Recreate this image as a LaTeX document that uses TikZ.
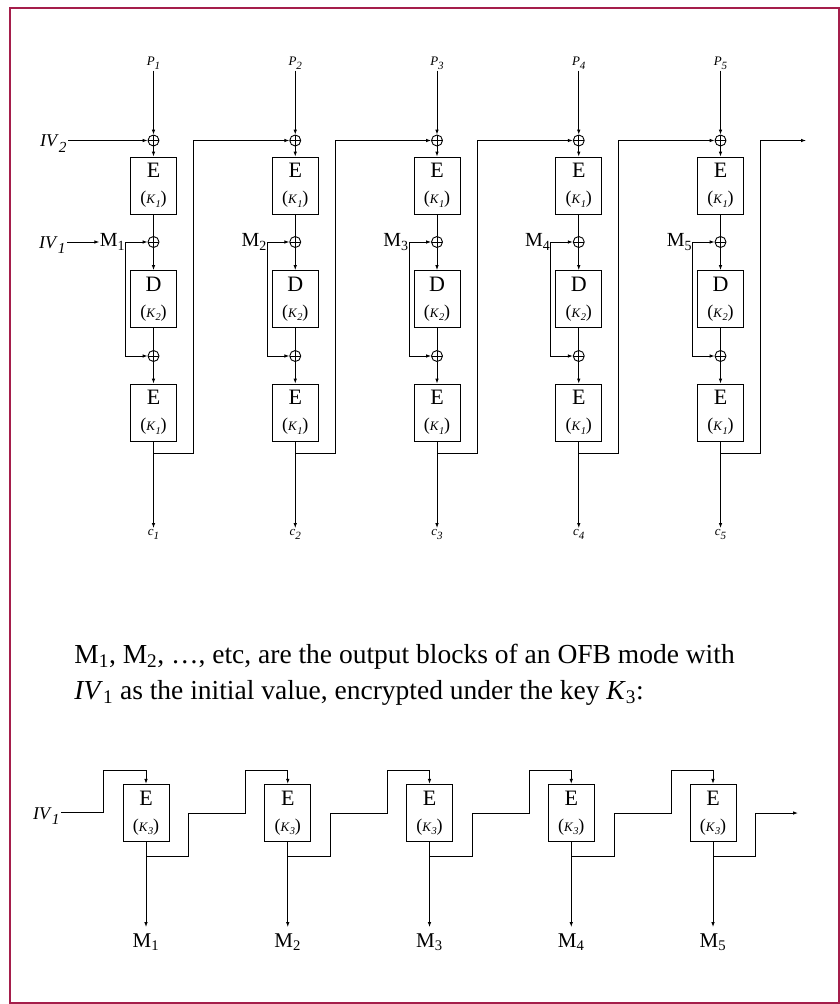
\documentclass[tikz,border=0pt]{standalone}
\usepackage{fontspec}
\usepackage{graphicx}
\setmainfont{Liberation Serif}
\usetikzlibrary{arrows.meta}
\definecolor{framered}{RGB}{165,30,75}
\newcommand{\kk}[1]{{\fontsize{13}{13}\selectfont\textit{K}\raisebox{-0.25em}{\scalebox{0.8}{\textit{#1}}}}}
\newcommand{\lab}[2]{\textit{#1}\raisebox{-0.3em}{\scalebox{0.85}{\textit{#2}}}}
\newcommand{\bx}[2]{#1\\{\fontsize{18}{26}\selectfont(\kk{#2})}}
\begin{document}
\begin{tikzpicture}[x=1pt,y=-1pt,line width=0.9pt,>={Latex[length=5pt,width=3.6pt]},
  blk/.style={draw,minimum width=46pt,minimum height=57pt,inner sep=0pt,align=center,font=\fontsize{22}{26}\selectfont},
  xor/.style={draw,circle,minimum size=11pt,inner sep=0pt,
    path picture={\draw[line width=0.8pt] (path picture bounding box.north) -- (path picture bounding box.south)
      (path picture bounding box.west) -- (path picture bounding box.east);}},
  lbl/.style={font=\fontsize{13}{13}\selectfont,inner sep=1pt},
  ivl/.style={font=\fontsize{18}{18}\selectfont,inner sep=1pt}]
\useasboundingbox (0,0) rectangle (840,1004);
\draw[framered,line width=2pt] (9.5,7.5) rectangle (839,1002.5);

% triple encryption chain
\foreach \i in {1,...,5}{
  \pgfmathsetmacro\x{153.5+141.75*(\i-1)}
  \node[lbl] (p\i) at (\x,63) {\lab{P}{\i}};
  \node[xor] (xa\i) at (\x,140.5) {};
  \node[blk] (ea\i) at (\x,185.5) {\bx{E}{1}};
  \node[xor] (xb\i) at (\x,242) {};
  \node[blk] (d\i) at (\x,299) {\bx{D}{2}};
  \node[xor] (xc\i) at (\x,356) {};
  \node[blk] (eb\i) at (\x,412.5) {\bx{E}{1}};
  \node[lbl,anchor=north] (c\i) at (\x,528) {\lab{c}{\i}};
  \node[anchor=east,inner sep=0pt,font=\fontsize{20}{20}\selectfont] (m\i) at (\x-28,242) {M\textsubscript{\i}};
  \coordinate (fb\i) at (\x,453);
  \draw[->] (p\i) -- (xa\i);
  \draw[->] (xa\i) -- (ea\i);
  \draw (ea\i) -- (xb\i);
  \draw[->] (xb\i) -- (d\i);
  \draw (d\i) -- (xc\i);
  \draw[->] (xc\i) -- (eb\i);
  \draw[->] (eb\i) -- (c\i);
  \draw[->] (m\i.east) -- (xb\i);
  \draw[->] (m\i.east) |- (xc\i);
}
\node[ivl,anchor=east] (iv2) at (68,143.5) {\lab{IV}{2}};
\node[ivl,anchor=east] (iv1) at (67,245) {\lab{IV}{1}};
\draw[->] (iv2.east |- xa1) -- (xa1);
\draw[->] (iv1.east |- m1) -- (m1);
\foreach \i/\j in {1/2,2/3,3/4,4/5}
  \draw[->] (fb\i) -- ++(40,0) |- (xa\j);
\coordinate (outa) at (806,140.5);
\draw[->] (fb5) -- ++(40,0) |- (outa);

\node[anchor=west,align=left,inner sep=0pt,font=\fontsize{27.5}{36}\selectfont] (cap) at (74,675)
  {M\textsubscript{1}, M\textsubscript{2}, \dots, etc, are the output blocks of an OFB mode with\\
   \textit{IV}\textsubscript{1} as the initial value, encrypted under the key \textit{K}\textsubscript{3}:};

% OFB mode
\foreach \i in {1,...,5}{
  \pgfmathsetmacro\x{146+141.75*(\i-1)}
  \node[blk] (ek\i) at (\x,812.8) {\bx{E}{3}};
  \node[anchor=north,inner sep=0pt,inner ysep=6pt,font=\fontsize{21}{21}\selectfont] (o\i) at (\x,927) {M\textsubscript{\i}};
  \coordinate (gb\i) at (\x,856);
  \draw[->] (ek\i) -- (o\i);
}
\node[ivl,anchor=east] (iv1b) at (61,816) {\lab{IV}{1}};
\draw[->] (iv1b.east |- ek1) -| (103,770.7) -| (ek1.north);
\foreach \i/\j in {1/2,2/3,3/4,4/5}
  \draw[->] (gb\i) -- ++(42.7,0) -- ++(0,-43) -- ++(57,0) -- ++(0,-42.3) -| (ek\j.north);
\coordinate (outb) at (798,813);
\draw[->] (gb5) -- ++(42,0) |- (outb);
\end{tikzpicture}
\end{document}
